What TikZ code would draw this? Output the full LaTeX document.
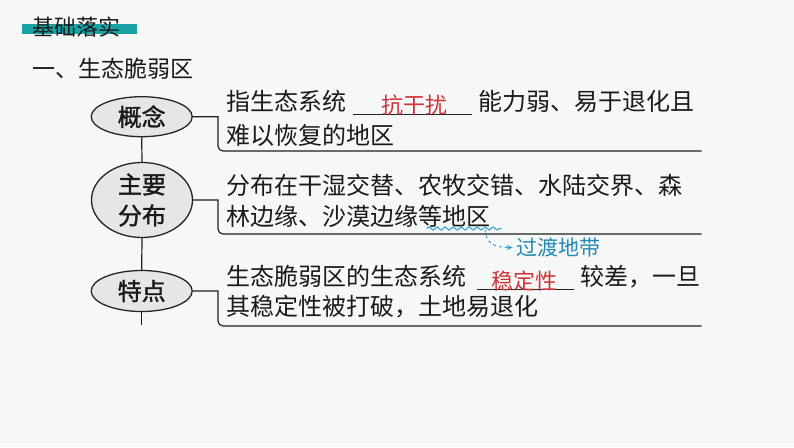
\documentclass[tikz,border=0pt]{standalone}
\usepackage{fontspec}
\newfontfamily\cjk{Noto Sans CJK SC}
\newfontfamily\cjkb{Noto Sans CJK SC}[FakeBold=1.6]
\usetikzlibrary{shapes.geometric,decorations.pathmorphing,arrows.meta}
\definecolor{bgc}{HTML}{F5F8F6}
\definecolor{teal1}{HTML}{1AA3A4}
\definecolor{txt}{HTML}{1A1A1A}
\definecolor{redt}{HTML}{D0343A}
\definecolor{bluet}{HTML}{2A9FD6}
\definecolor{ellf}{HTML}{E6E6E6}
\tikzset{
  txtline/.style={anchor=west,inner sep=0pt,text=txt,font=\cjk\fontsize{24}{30}\selectfont},
  redans/.style={anchor=west,inner sep=0pt,text=redt,font=\cjk\fontsize{22}{26}\selectfont},
  ellnode/.style={ellipse,draw=black!85,line width=1.3pt,fill=ellf,inner sep=0pt,minimum width=101pt,text=txt,font=\cjkb\fontsize{24}{31}\selectfont,align=center},
  conn/.style={draw=black!88,line width=1.2pt},
  blank/.style={draw=black!85,line width=1pt}
}
\begin{document}
\begin{tikzpicture}[x=1pt,y=-1pt]
\useasboundingbox (0,0) rectangle (794,447);
\fill[bgc] (0,0) rectangle (794,447);
% header
\fill[teal1] (22,23.5) rectangle (137,33.5);
\node[anchor=west,inner sep=0pt,text=txt,font=\cjk\fontsize{22}{26}\selectfont] (hdr) at (32,27) {基础落实};
\node[anchor=west,inner sep=0pt,text=txt,font=\cjk\fontsize{23}{28}\selectfont] (ttl) at (32,69) {一、生态脆弱区};
% ellipses
\node[ellnode,minimum height=40pt] (e1) at (141.7,116.7) {概念};
\node[ellnode,minimum height=70pt] (e2) at (142,200) {主要\\分布};
\node[ellnode,minimum height=41pt] (e3) at (141.7,291) {特点};
\coordinate (tend) at (141.7,325);
\draw[conn] (e1.south) -- (e2.north);
\draw[conn] (e2.south) -- (e3.north);
\draw[conn] (e3.south) -- (tend);
% brackets
\coordinate (b1) at (701.7,151);
\coordinate (b2) at (701.7,234);
\coordinate (b3) at (701.7,326);
\draw[conn] (e1.east) -- (218,116.7) [rounded corners=5pt] |- (b1);
\draw[conn] (e2.east) -- (218,200) [rounded corners=5pt] |- (b2);
\draw[conn] (e3.east) -- (218,291) [rounded corners=5pt] |- (b3);
% block 1
\node[txtline] (t11) at (226.7,101.7) {指生态系统};
\coordinate (u1a) at (353,114.5);
\coordinate (u1b) at (472,114.5);
\draw[blank] (u1a) -- (u1b);
\node[redans] (a1) at (381.7,105) {抗干扰};
\node[txtline] (t12) at (478,101.7) {能力弱、易于退化且};
\node[txtline] (t13) at (226.7,135) {难以恢复的地区};
% block 2
\node[txtline] (t21) at (226.7,185) {分布在干湿交替、农牧交错、水陆交界、森};
\node[txtline] (t22) at (226.7,216.7) {林边缘、沙漠边缘等地区};
\coordinate (w1) at (426.7,228.5);
\coordinate (w2) at (501.7,228.5);
\draw[bluet,line width=1pt,decorate,decoration={snake,segment length=8pt,amplitude=1.6pt}] (w1) -- (w2);
\coordinate (ar0) at (485,229.5);
\node[anchor=west,inner sep=0pt,text=bluet!85!black,font=\cjk\fontsize{21}{26}\selectfont] (note) at (516.7,247.5) {过渡地带};
\draw[bluet,line width=0.9pt,dashed,-{Stealth[length=6pt,width=5pt]}] (ar0) .. controls (486,244) and (495,247.5) .. ([xshift=-4pt]note.west);
% block 3
\node[txtline] (t31) at (226.7,276.7) {生态脆弱区的生态系统};
\coordinate (u3a) at (476.7,289.5);
\coordinate (u3b) at (574,289.5);
\draw[blank] (u3a) -- (u3b);
\node[redans] (a3) at (491.7,281) {稳定性};
\node[txtline] (t32) at (580,276.7) {较差，一旦};
\node[txtline] (t33) at (226.7,306.7) {其稳定性被打破，土地易退化};
\end{tikzpicture}
\end{document}
